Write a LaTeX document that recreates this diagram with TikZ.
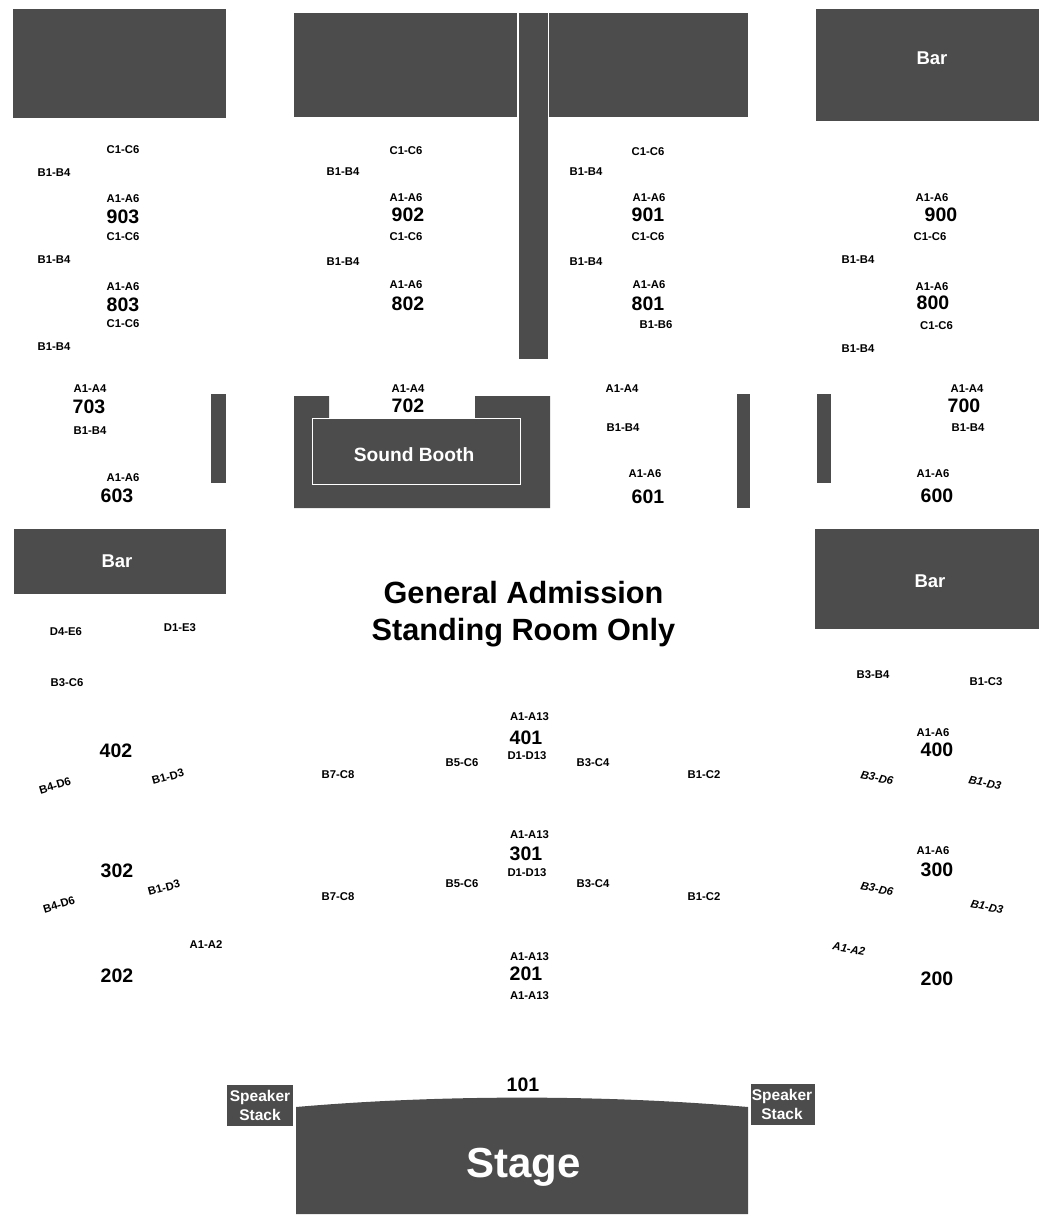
\documentclass[tikz,border=0pt]{standalone}
\usepackage{fontspec}
\setmainfont{Liberation Sans}
\definecolor{blockgray}{HTML}{4C4C4C}
\begin{document}
\begin{tikzpicture}[x = 1pt, y = -1pt]
    \useasboundingbox (0, 0) rectangle (1050, 1224);

    \tikzstyle{block} = [fill = blockgray, draw = none]
    \tikzstyle{seat} = [inner sep = 0pt, yshift = -0.8pt, font = \bfseries\fontsize{11.3}{13}\selectfont]
    \tikzstyle{sect} = [inner sep = 0pt, font = \bfseries\fontsize{19.5}{22}\selectfont]
    \tikzstyle{tag} = [inner sep = 0pt, text = white, font = \bfseries\fontsize{18.5}{22}\selectfont]

    % top row
    \fill[block] (13, 9) rectangle (226, 118);
    \fill[block] (294, 13) rectangle (517, 117);
    \fill[block] (519, 13) rectangle (547.5, 359);
    \fill[block] (549, 13) rectangle (748, 117);
    \fill[block] (816, 9) rectangle (1039, 121);
    \node[tag] (bartop) at (932, 58) {Bar};

    % small walls
    \fill[block] (211, 394) rectangle (226, 483);
    \fill[block] (737, 394) rectangle (750, 508);
    \fill[block] (817, 394) rectangle (831, 483);

    % sound booth
    \fill[block] (294, 396) -- (329, 396) -- (329, 418) -- (475, 418) -- (475, 396)
        -- (550, 396) -- (550, 508) -- (294, 508) -- cycle;
    \draw[white, line width = 1pt] (312, 418.5) rectangle (520, 484);
    \node[tag, font = \bfseries\fontsize{19.2}{24}\selectfont] (booth) at (414, 454.5) {Sound Booth};

    % bars
    \fill[block] (14, 529) rectangle (226, 594);
    \node[tag] (barleft) at (117, 561) {Bar};
    \fill[block] (815, 529) rectangle (1039, 629);
    \node[tag] (barright) at (930, 581) {Bar};

    % stage
    \fill[block] (296, 1107) .. controls (440, 1094.5) and (604, 1094.5) .. (748, 1107)
        -- (748, 1214) -- (296, 1214) -- cycle;
    \node[tag, font = \bfseries\fontsize{42}{48}\selectfont] (stage) at (523.5, 1167) {Stage};
    \fill[block] (227, 1085) rectangle (293, 1126);
    \fill[block] (751, 1084) rectangle (815, 1125);
    \node[tag, align = center, font = \bfseries\fontsize{15.5}{18.5}\selectfont] (spkl) at (260, 1105.5) {Speaker\\Stack};
    \node[tag, align = center, font = \bfseries\fontsize{15.5}{18.5}\selectfont] (spkr) at (782, 1104.5) {Speaker\\Stack};

    % general admission
    \node[inner sep = 0pt, align = center, font = \bfseries\fontsize{30.7}{37}\selectfont] (ga) at (523.5, 614) {General Admission\\Standing Room Only};

    % sections
    \node[sect] (s903) at (123, 217) {903};
    \node[sect] (s902) at (408, 215) {902};
    \node[sect] (s901) at (648, 215) {901};
    \node[sect] (s900) at (941, 215) {900};
    \node[sect] (s803) at (123, 305) {803};
    \node[sect] (s802) at (408, 304) {802};
    \node[sect] (s801) at (648, 304) {801};
    \node[sect] (s800) at (933, 303) {800};
    \node[sect] (s703) at (89, 407) {703};
    \node[sect] (s702) at (408, 405.5) {702};
    \node[sect] (s700) at (964, 406) {700};
    \node[sect] (s603) at (117, 496) {603};
    \node[sect] (s601) at (648, 497) {601};
    \node[sect] (s600) at (937, 496) {600};
    \node[sect] (s402) at (116, 751) {402};
    \node[sect] (s401) at (526, 738) {401};
    \node[sect] (s400) at (937, 750) {400};
    \node[sect] (s302) at (117, 871) {302};
    \node[sect] (s301) at (526, 854) {301};
    \node[sect] (s300) at (937, 870) {300};
    \node[sect] (s202) at (117, 976) {202};
    \node[sect] (s201) at (526, 974) {201};
    \node[sect] (s200) at (937, 979) {200};
    \node[sect] (s101) at (523, 1085) {101};

    % rows, block 900
    \node[seat] (r1) at (123, 149) {C1-C6};
    \node[seat] (r2) at (54, 172) {B1-B4};
    \node[seat] (r3) at (123, 198) {A1-A6};
    \node[seat] (r4) at (406, 150) {C1-C6};
    \node[seat] (r5) at (343, 171) {B1-B4};
    \node[seat] (r6) at (406, 197) {A1-A6};
    \node[seat] (r7) at (648, 151) {C1-C6};
    \node[seat] (r8) at (586, 171) {B1-B4};
    \node[seat] (r9) at (649, 197) {A1-A6};
    \node[seat] (r10) at (932, 197) {A1-A6};

    % rows, block 800
    \node[seat] (r11) at (123, 236) {C1-C6};
    \node[seat] (r12) at (54, 259) {B1-B4};
    \node[seat] (r13) at (123, 286) {A1-A6};
    \node[seat] (r14) at (406, 236) {C1-C6};
    \node[seat] (r15) at (343, 261) {B1-B4};
    \node[seat] (r16) at (406, 284) {A1-A6};
    \node[seat] (r17) at (648, 236) {C1-C6};
    \node[seat] (r18) at (586, 261) {B1-B4};
    \node[seat] (r19) at (649, 284) {A1-A6};
    \node[seat] (r20) at (930, 236) {C1-C6};
    \node[seat] (r21) at (858, 259) {B1-B4};
    \node[seat] (r22) at (932, 286) {A1-A6};

    % rows, block 700
    \node[seat] (r23) at (123, 323) {C1-C6};
    \node[seat] (r24) at (54, 346) {B1-B4};
    \node[seat] (r25) at (656, 324) {B1-B6};
    \node[seat] (r26) at (936.5, 325) {C1-C6};
    \node[seat] (r27) at (858, 348) {B1-B4};
    \node[seat] (r28) at (90, 388) {A1-A4};
    \node[seat] (r29) at (90, 430) {B1-B4};
    \node[seat] (r30) at (408, 388) {A1-A4};
    \node[seat] (r31) at (622, 388) {A1-A4};
    \node[seat] (r32) at (623, 427) {B1-B4};
    \node[seat] (r33) at (967, 388) {A1-A4};
    \node[seat] (r34) at (968, 427) {B1-B4};

    % rows, block 600
    \node[seat] (r35) at (123, 477) {A1-A6};
    \node[seat] (r36) at (645, 473) {A1-A6};
    \node[seat] (r37) at (933, 473) {A1-A6};

    % rows, left side
    \node[seat] (r38) at (66, 631) {D4-E6};
    \node[seat] (r39) at (180, 627) {D1-E3};
    \node[seat] (r40) at (67, 682) {B3-C6};
    \node[seat, rotate = 17] (r41) at (55, 785) {B4-D6};
    \node[seat, rotate = 15] (r42) at (168, 776) {B1-D3};
    \node[seat, rotate = 17] (r43) at (59, 904) {B4-D6};
    \node[seat, rotate = 15] (r44) at (164, 887) {B1-D3};
    \node[seat] (r45) at (206, 944) {A1-A2};

    % rows, centre
    \node[seat] (r46) at (529.5, 716) {A1-A13};
    \node[seat] (r47) at (527, 755) {D1-D13};
    \node[seat] (r48) at (529.5, 834) {A1-A13};
    \node[seat] (r49) at (527, 872) {D1-D13};
    \node[seat] (r50) at (529.5, 956) {A1-A13};
    \node[seat] (r51) at (529.5, 995) {A1-A13};
    \node[seat] (r52) at (338, 774) {B7-C8};
    \node[seat] (r53) at (462, 762) {B5-C6};
    \node[seat] (r54) at (593, 762) {B3-C4};
    \node[seat] (r55) at (704, 774) {B1-C2};
    \node[seat] (r56) at (338, 896) {B7-C8};
    \node[seat] (r57) at (462, 883) {B5-C6};
    \node[seat] (r58) at (593, 883) {B3-C4};
    \node[seat] (r59) at (704, 896) {B1-C2};

    % rows, right side
    \node[seat] (r60) at (873, 674) {B3-B4};
    \node[seat] (r61) at (986, 681) {B1-C3};
    \node[seat] (r62) at (933, 732) {A1-A6};
    \node[seat, rotate = -12] (r63) at (877, 777) {\itshape B3-D6};
    \node[seat, rotate = -12] (r64) at (985, 782) {\itshape B1-D3};
    \node[seat] (r65) at (933, 850) {A1-A6};
    \node[seat, rotate = -12] (r66) at (877, 888) {\itshape B3-D6};
    \node[seat, rotate = -12] (r67) at (987, 906) {\itshape B1-D3};
    \node[seat, rotate = -10] (r68) at (849, 948) {\itshape A1-A2};
\end{tikzpicture}
\end{document}
